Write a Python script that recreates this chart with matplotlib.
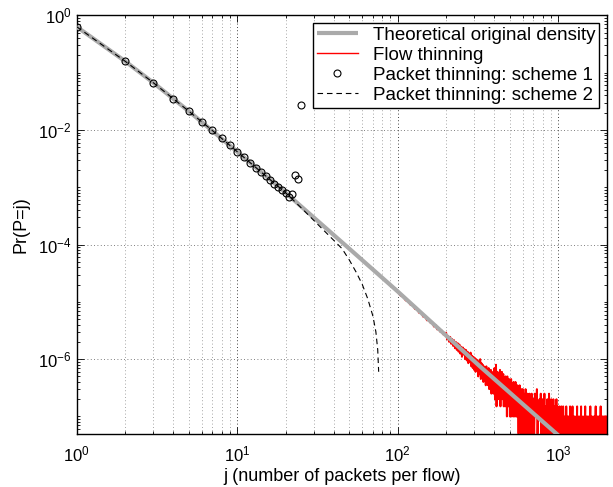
import numpy as np
import matplotlib
matplotlib.use("Agg")
import matplotlib.pyplot as plt
from matplotlib.ticker import LogLocator, NullFormatter, FixedLocator

plt.rcParams['font.family'] = ['Liberation Sans', 'DejaVu Sans']
plt.rcParams['mathtext.fontset'] = 'custom'
plt.rcParams['mathtext.rm'] = 'Liberation Sans'

# ---------------- data ----------------
# Theoretical original density (log10 of probability)
theory_j = [1, 2, 3, 5, 10, 20, 50, 100, 326, 1000, 2000]
theory_log10p = [-0.20, -0.80, -1.176, -1.675, -2.38, -3.096, -4.075, -4.82, -6.13, -7.33, -8.08]

# Packet thinning: scheme 1 (circles)
scheme1_j = list(range(1, 26))
scheme1_log10p = [-0.20, -0.798, -1.176, -1.455, -1.675, -1.862, -2.01, -2.147, -2.269, -2.38,
                  -2.478, -2.572, -2.66, -2.735, -2.80, -2.874, -2.94, -3.00, -3.04, -3.096,
                  -3.165, -3.12, -2.787, -2.862, -1.565]

# Packet thinning: scheme 2 (dashed)
scheme2_j = [1, 2, 3, 5, 7, 10, 15, 20, 25, 30, 35, 40, 45, 50, 55, 60, 65, 70, 73, 75, 76]
scheme2_log10p = [-0.20, -0.80, -1.176, -1.675, -2.01, -2.38, -2.80, -3.096, -3.358, -3.58,
                  -3.767, -3.929, -4.073, -4.274, -4.481, -4.692, -4.947, -5.25, -5.52, -5.84, -6.22]

# Flow thinning: head (log10 probability), tail as flow counts (1 count = 5e-8)
flow_head_j = [1, 2, 3, 5, 10, 20, 50, 96]
flow_head_log10p = [-0.20, -0.80, -1.176, -1.675, -2.38, -3.096, -4.075, -4.78]
count_unit = 5e-8
flow_seg1_j = np.arange(100, 200, 4)
flow_seg1_counts = [300, 258, 247, 212, 205, 178, 176, 150, 149, 128, 131, 110, 112, 95, 99,
                    86, 88, 74, 79, 66, 70, 60, 63, 54, 56]
flow_seg2_j = np.arange(200, 400, 3)
flow_seg2_counts = [58, 44, 51, 40, 49, 37, 45, 34, 43, 31, 40, 29, 38, 27, 36, 25, 33, 22, 32, 24,
                    30, 20, 29, 19, 27, 17, 25, 18, 26, 15, 23, 14, 22, 13, 21, 12, 20, 13, 19, 10,
                    18, 11, 20, 9, 17, 10, 16, 8, 15, 9, 14, 7, 15, 8, 13, 7, 14, 6, 12, 7,
                    13, 5, 11, 6, 12, 5, 10]
flow_seg3_j = np.arange(400, 700, 3)
flow_seg3_counts = [14, 4, 10, 16, 3, 9, 12, 4, 11, 6,
                    7, 13, 3, 10, 5, 12, 4, 8, 11, 3,
                    9, 5, 3, 10, 6, 8, 2, 10, 4, 7,
                    3, 9, 5, 2, 8, 4, 9, 2, 7, 3,
                    6, 2, 8, 3, 2, 7, 4, 8, 2, 6,
                    2, 5, 7, 2, 4, 1, 6, 3, 7, 2,
                    4, 5, 1, 6, 3, 1, 4, 6, 2, 3,
                    5, 1, 3, 4, 2, 6, 2, 1, 4, 2,
                    3, 5, 1, 2, 4, 3, 1, 5, 2, 3,
                    2, 4, 1, 3, 5, 2, 1, 3, 4, 2]
flow_seg4_j = np.arange(700, 2000, 7)
flow_seg4_counts = [4, 1, 5, 2, 3, 6, 1, 3, 2, 4,
                    2, 5, 1, 3, 4, 1, 2, 5, 1, 3,
                    3, 1, 4, 2, 1, 5, 2, 3, 1, 4,
                    2, 3, 1, 4, 1, 2, 3, 1, 2, 4,
                    1, 3, 1, 2, 0, 3, 1, 2, 1, 3,
                    1, 2, 0, 3, 1, 2, 1, 0, 2, 1,
                    3, 1, 0, 2, 1, 1, 2, 0, 1, 3,
                    1, 0, 2, 1, 1, 3, 0, 1, 2, 1,
                    0, 2, 1, 1, 0, 2, 1, 3, 0, 1,
                    2, 1, 0, 1, 2, 0, 1, 1, 3, 0,
                    1, 2, 0, 1, 1, 0, 2, 1, 0, 1,
                    3, 0, 1, 1, 2, 0, 1, 0, 2, 1,
                    0, 1, 2, 1, 0, 1, 3, 0, 1, 1,
                    2, 0, 1, 0, 1, 2, 0, 1, 1, 0,
                    2, 1, 0, 1, 3, 0, 1, 1, 0, 2,
                    1, 0, 1, 2, 0, 1, 0, 1, 2, 1,
                    0, 1, 3, 0, 1, 1, 0, 2, 1, 0,
                    1, 2, 0, 1, 1, 0, 2, 1, 0, 1,
                    2, 0, 1, 1, 0, 2]

legend_labels = ["Theoretical original density", "Flow thinning",
                 "Packet thinning: scheme 1", "Packet thinning: scheme 2"]

# ---------------- figure ----------------
fig = plt.figure(figsize=(6.13, 4.87), dpi=100)
ax = fig.add_axes([0.1251, 0.1094, 0.8646, 0.8592])
ax.set_xscale('log')
ax.set_yscale('log', nonpositive='clip')

flow_j = np.concatenate([flow_head_j, flow_seg1_j, flow_seg2_j, flow_seg3_j, flow_seg4_j])
flow_p = np.concatenate([10.0 ** np.array(flow_head_log10p),
                         np.array(flow_seg1_counts + flow_seg2_counts + flow_seg3_counts
                                  + flow_seg4_counts, dtype=float) * count_unit])

h_red, = ax.plot(flow_j, flow_p, color='#ff0000', lw=1.4, zorder=2)
h_gray, = ax.plot(theory_j, 10.0 ** np.array(theory_log10p), color='#aaaaaa', lw=3.0,
                  solid_capstyle='butt', zorder=3)
h_circ, = ax.plot(scheme1_j, 10.0 ** np.array(scheme1_log10p), ls='none', marker='o',
                  mfc='none', mec='black', mew=0.8, ms=5, zorder=5)
h_dash, = ax.plot(scheme2_j, 10.0 ** np.array(scheme2_log10p), color='black', lw=0.8,
                  dashes=(5, 3.5), zorder=4)

ax.set_xlim(1, 2000)
ax.set_ylim(5e-8, 1)

# ticks
ax.xaxis.set_major_locator(LogLocator(base=10, numticks=10))
ax.xaxis.set_minor_locator(LogLocator(base=10, subs=np.arange(2, 10), numticks=20))
ax.xaxis.set_minor_formatter(NullFormatter())
ax.yaxis.set_major_locator(FixedLocator([1e-6, 1e-4, 1e-2, 1e0]))
ax.yaxis.set_minor_locator(LogLocator(base=10, subs=np.arange(1, 10), numticks=20))
ax.yaxis.set_minor_formatter(NullFormatter())

ax.tick_params(which='both', direction='in', top=True, right=True, labelsize=12, width=0.6)
ax.tick_params(which='major', length=5)
ax.tick_params(which='minor', length=2.5)
ax.tick_params(axis='x', which='major', pad=8)

# grid: dotted
ax.grid(False)
ax.xaxis.grid(True, which='major', ls=(0, (1, 3)), color='black', lw=0.6)
ax.xaxis.grid(True, which='minor', ls=(0, (1, 3)), color='#888888', lw=0.6)
ax.yaxis.grid(True, which='major', ls=(0, (1, 3)), color='#555555', lw=0.6)
ax.set_axisbelow(True)
for s in ax.spines.values():
    s.set_linewidth(1.0)

ax.set_xlabel("j (number of packets per flow)", fontsize=13, labelpad=2)
ax.set_ylabel("Pr(P=j)", fontsize=13, labelpad=6)

leg = ax.legend([h_gray, h_red, h_circ, h_dash], legend_labels, loc='upper right',
                fontsize=13.5, frameon=True, fancybox=False, edgecolor='black',
                framealpha=1, borderpad=0.2, labelspacing=0.16, handlelength=2.2,
                handletextpad=0.8, borderaxespad=0.4)
leg.get_frame().set_linewidth(1.0)
leg.get_lines()[1].set_linewidth(1.0)

fig.savefig("out.png", dpi=100)
